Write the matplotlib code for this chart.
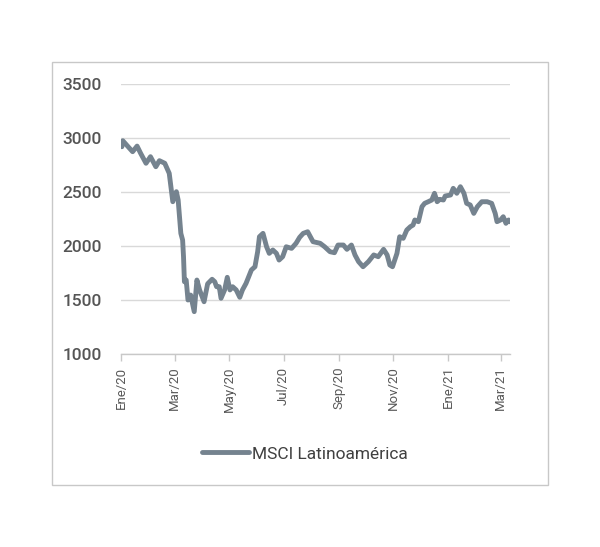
import matplotlib
matplotlib.use("Agg")
import matplotlib.pyplot as plt
from matplotlib.patches import Rectangle
import pandas as pd

plt.rcParams['font.family'] = ['Roboto', 'DejaVu Sans']

fechas = [
    "2020-01-02", "2020-01-03", "2020-01-09", "2020-01-14", "2020-01-19", "2020-01-23",
    "2020-01-29", "2020-02-03", "2020-02-09", "2020-02-13", "2020-02-19", "2020-02-24",
    "2020-02-28", "2020-03-03", "2020-03-05", "2020-03-08", "2020-03-10", "2020-03-11",
    "2020-03-12", "2020-03-14", "2020-03-16", "2020-03-19", "2020-03-23", "2020-03-26",
    "2020-03-29", "2020-04-03", "2020-04-07", "2020-04-12", "2020-04-15", "2020-04-17",
    "2020-04-20", "2020-04-22", "2020-04-26", "2020-04-29", "2020-05-02", "2020-05-05",
    "2020-05-09", "2020-05-13", "2020-05-16", "2020-05-20", "2020-05-26", "2020-05-30",
    "2020-06-02", "2020-06-04", "2020-06-08", "2020-06-12", "2020-06-15", "2020-06-19",
    "2020-06-23", "2020-06-26", "2020-06-30", "2020-07-04", "2020-07-10", "2020-07-15",
    "2020-07-19", "2020-07-23", "2020-07-28", "2020-08-03", "2020-08-11", "2020-08-16",
    "2020-08-22", "2020-08-27", "2020-08-31", "2020-09-06", "2020-09-10", "2020-09-15",
    "2020-09-19", "2020-09-23", "2020-09-28", "2020-10-04", "2020-10-10", "2020-10-15",
    "2020-10-21", "2020-10-25", "2020-10-28", "2020-10-31", "2020-11-05", "2020-11-08",
    "2020-11-12", "2020-11-16", "2020-11-20", "2020-11-23", "2020-11-25", "2020-11-29",
    "2020-12-03", "2020-12-06", "2020-12-10", "2020-12-14", "2020-12-17", "2020-12-20",
    "2020-12-23", "2020-12-27", "2020-12-29", "2021-01-04", "2021-01-07", "2021-01-11",
    "2021-01-15", "2021-01-19", "2021-01-22", "2021-01-26", "2021-01-30", "2021-02-03",
    "2021-02-08", "2021-02-14", "2021-02-19", "2021-02-23", "2021-02-25", "2021-03-01",
    "2021-03-04", "2021-03-07", "2021-03-10", "2021-03-11",
]
msci_latam = [
    2919, 2975, 2919, 2873, 2925, 2858,
    2766, 2827, 2734, 2790, 2766, 2673,
    2410, 2503, 2426, 2117, 2055, 1901,
    1669, 1685, 1500, 1546, 1392, 1685,
    1593, 1484, 1650, 1692, 1669, 1623,
    1623, 1516, 1593, 1710, 1593, 1623,
    1593, 1525, 1593, 1654, 1778, 1808,
    1947, 2086, 2117, 1993, 1932, 1963,
    1932, 1870, 1901, 1993, 1978, 2025,
    2080, 2117, 2132, 2040, 2025, 1993,
    1947, 1938, 2009, 2009, 1969, 2009,
    1917, 1855, 1808, 1855, 1917, 1901,
    1969, 1917, 1824, 1808, 1932, 2086,
    2071, 2148, 2179, 2194, 2241, 2225,
    2364, 2395, 2410, 2426, 2488, 2410,
    2432, 2426, 2463, 2472, 2534, 2488,
    2549, 2488, 2395, 2380, 2302, 2364,
    2410, 2410, 2395, 2302, 2225, 2241,
    2271, 2210, 2241, 2225,
]
serie_label = "MSCI Latinoamérica"
y_ticks = [1000, 1500, 2000, 2500, 3000, 3500]
x_ticks = ["2020-01-01", "2020-03-01", "2020-05-01", "2020-07-01", "2020-09-01",
           "2020-11-01", "2021-01-01", "2021-03-01"]
x_tick_labels = ["Ene/20", "Mar/20", "May/20", "Jul/20", "Sep/20", "Nov/20", "Ene/21", "Mar/21"]

fig = plt.figure(figsize=(6.0, 5.47), dpi=100)
fig.patch.set_facecolor("white")
fig.patches.append(Rectangle((52/600, 1-485/547), 496/600, 423/547, transform=fig.transFigure,
                             fill=False, edgecolor="#c8c8c8", linewidth=1.0))

ax = fig.add_axes([121/600, 1-354/547, (509.5-121)/600, (354-84)/547])
x = pd.to_datetime(fechas)
line, = ax.plot(x, msci_latam, color="#75838f", linewidth=3.5, solid_capstyle="round",
                solid_joinstyle="round", label=serie_label, zorder=3)

ax.set_ylim(1000, 3500)
ax.set_xlim(pd.Timestamp("2020-01-01"), pd.Timestamp("2021-03-11"))
ax.set_yticks(y_ticks)
ax.set_yticklabels([str(v) for v in y_ticks], fontsize=12.5, color="#555555", fontweight="medium")
ax.tick_params(axis="y", length=0, pad=14)
ax.set_xticks(pd.to_datetime(x_ticks))
ax.set_xticklabels(x_tick_labels, rotation=90, fontsize=9.5, color="#595959")
ax.tick_params(axis="x", length=5, color="#c8c8c8", width=1, pad=4)

ax.grid(axis="y", color="#d9d9d9", linewidth=1)
ax.set_axisbelow(True)
for s in ["top", "right", "left"]:
    ax.spines[s].set_visible(False)
ax.spines["bottom"].set_color("#c8c8c8")
ax.spines["bottom"].set_linewidth(1)

fig.legend(handles=[line], labels=[serie_label], loc="center",
           bbox_to_anchor=(305/600, 1-454/547), frameon=False, fontsize=12.5,
           handlelength=2.7, handletextpad=0.2, labelcolor="#404040")

fig.savefig("out.png", dpi=100)
